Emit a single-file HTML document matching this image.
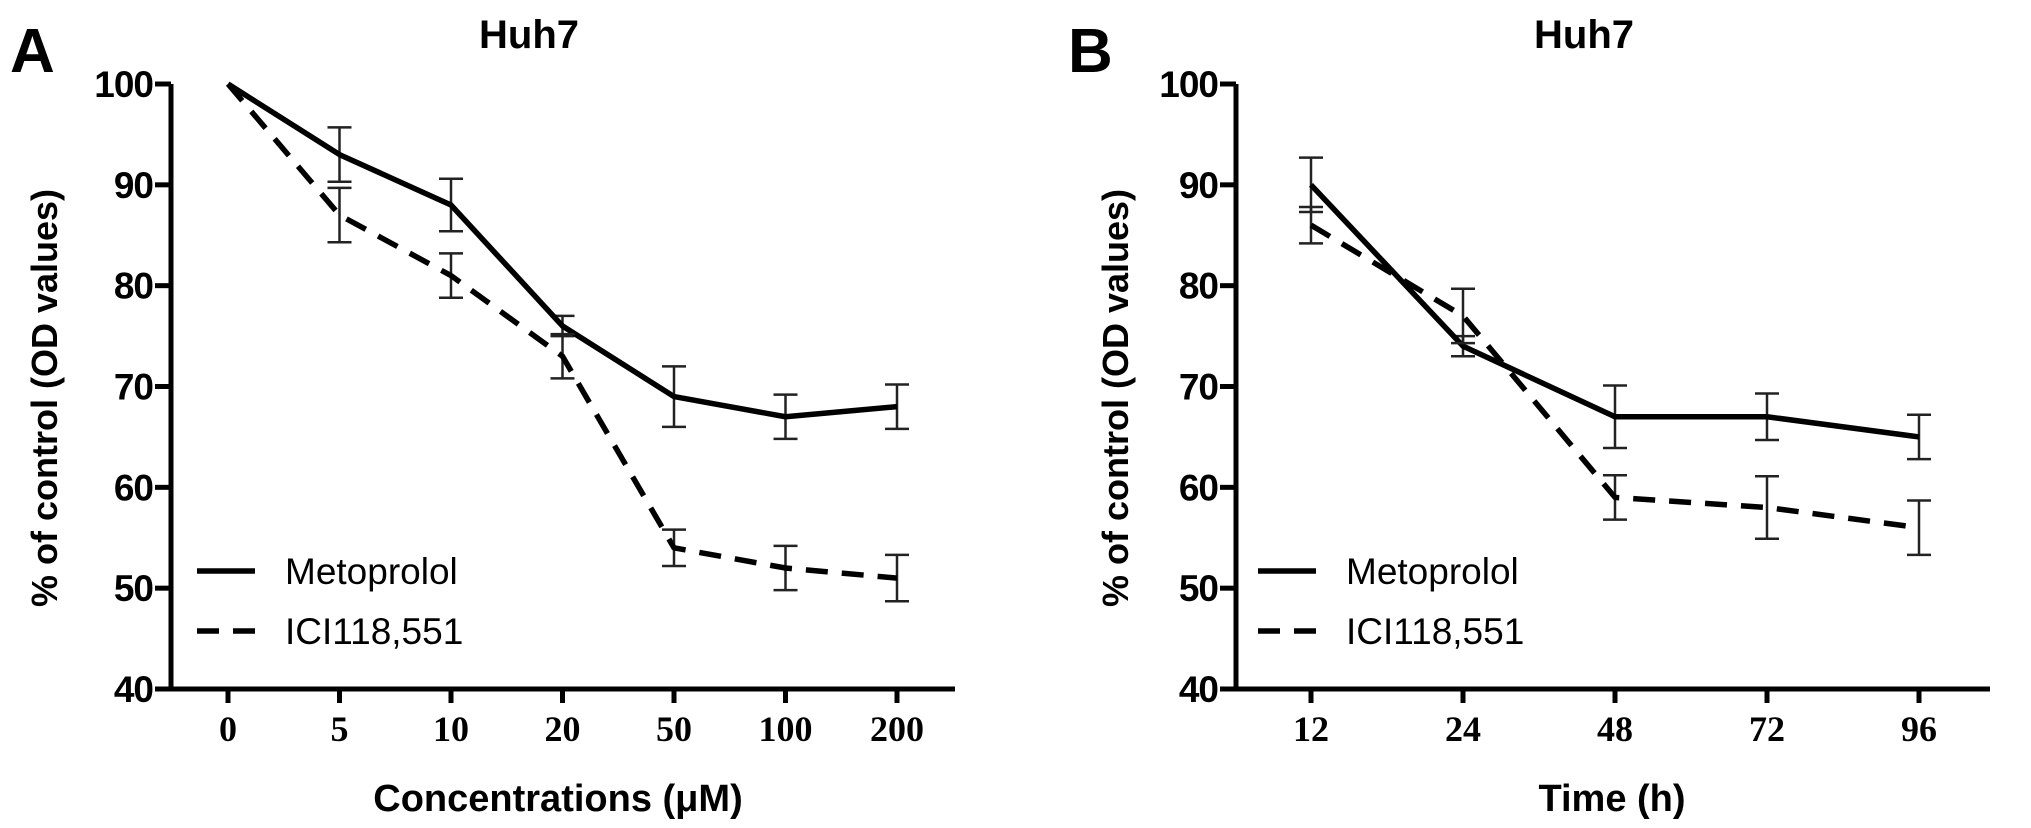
<!DOCTYPE html>
<html><head><meta charset="utf-8">
<style>
html,body{margin:0;padding:0;background:#fff;}
svg{display:block;font-family:"Liberation Sans",Arial,sans-serif;}
</style></head>
<body>
<svg id="chart" width="2031" height="828" viewBox="0 0 2031 828" xmlns="http://www.w3.org/2000/svg"></svg>
<script>
// Panel A data
const catsA = ["0","5","10","20","50","100","200"];
const metA = [100,93,88,76,69,67,68];
const metErrA = [0,2.7,2.6,1,3,2.2,2.2];
const iciA = [100,87,81,73,54,52,51];
const iciErrA = [0,2.7,2.2,2.2,1.8,2.2,2.3];
// Panel B data
const catsB = ["12","24","48","72","96"];
const metB = [90,74,67,67,65];
const metErrB = [2.7,1,3.1,2.3,2.2];
const iciB = [86,77,59,58,56];
const iciErrB = [1.8,2.7,2.2,3.1,2.7];
const yTicks = [40,50,60,70,80,90,100];

const svg = document.getElementById('chart');
const NS = 'http://www.w3.org/2000/svg';
function mk(tag, attrs, parent){
  const e = document.createElementNS(NS, tag);
  for (const k in attrs) e.setAttribute(k, attrs[k]);
  (parent||svg).appendChild(e);
  return e;
}

function panel(cfg){
  const g = mk('g', {});
  
  
  const y = v => 689 - (v - 40) * (689 - 84) / 60;
  const x = i => cfg.x0 + i * cfg.dx;
  // letter
  const L = mk('text', {x: cfg.letterX, y: 72, 'font-size': 62, 'font-weight': 'bold'}, g);
  L.textContent = cfg.letter;
  
  
  const T = mk('text', {x: cfg.titleX, y: 48, 'font-size': 40, 'font-weight': 'bold', 'text-anchor': 'middle'}, g);
  T.textContent = 'Huh7';
  
  
  // axes
  const ax = mk('path', {d: `M${cfg.ax},${y(100)} V${y(40)} H${cfg.axEnd}`, stroke: '#000', 'stroke-width': 5, fill: 'none'}, g);
  
  
  yTicks.forEach(t => {
    mk('line', {x1: cfg.ax - 16, x2: cfg.ax, y1: y(t), y2: y(t), stroke: '#000', 'stroke-width': 5}, g);
    const tx = mk('text', {x: cfg.ax - 18, y: y(t) + 13, 'font-size': 37, 'font-weight': 'bold', 'text-anchor': 'end', 'letter-spacing': -1}, g);
    tx.textContent = t;
    
    
  });
  cfg.cats.forEach((c, i) => {
    mk('line', {x1: x(i), x2: x(i), y1: y(40), y2: y(40) + 14, stroke: '#000', 'stroke-width': 5}, g);
    const tx = mk('text', {x: x(i), y: 741, 'font-size': 36, 'font-weight': 'bold', 'text-anchor': 'middle', 'font-family': '"Liberation Serif",serif'}, g);
    tx.textContent = c;
    
    
  });
  const yt = mk('text', {x: 0, y: 0, 'font-size': 36, 'font-weight': 'bold', 'text-anchor': 'middle', transform: `translate(${cfg.ytX},${398}) rotate(-90)`}, g);
  yt.textContent = '% of control (OD values)';
  
  
  const xt = mk('text', {x: cfg.xtX, y: 811, 'font-size': 38, 'font-weight': 'bold', 'text-anchor': 'middle'}, g);
  xt.textContent = cfg.xTitle;
  
  
  // series
  const series = [
    {vals: cfg.met, err: cfg.metErr, dash: 'none', name: 'metoprolol-line'},
    {vals: cfg.ici, err: cfg.iciErr, dash: '22,14', name: 'ici118551-line'}
  ];
  series.forEach(s => {
    s.vals.forEach((v, i) => {
      if (!s.err[i]) return;
      const eb = mk('path', {d: `M${x(i)-12},${y(v+s.err[i])} H${x(i)+12} M${x(i)},${y(v+s.err[i])} V${y(v-s.err[i])} M${x(i)-12},${y(v-s.err[i])} H${x(i)+12}`, stroke: '#222', 'stroke-width': 2.5, fill: 'none'}, g);
      
      
    });
    const p = mk('polyline', {points: s.vals.map((v, i) => `${x(i)},${y(v)}`).join(' '), stroke: '#000', 'stroke-width': 5.5, fill: 'none', 'stroke-dasharray': s.dash, 'stroke-linejoin': 'round'}, g);
    
    
  });
  // legend
  const lg = mk('g', {}, g);
  
  
  [['Metoprolol', 'none', 571], ['ICI118,551', '22,14', 631]].forEach(([lab, dash, ly]) => {
    mk('line', {x1: cfg.legX, x2: cfg.legX + 58, y1: ly, y2: ly, stroke: '#000', 'stroke-width': 5.5, 'stroke-dasharray': dash}, lg);
    const t = mk('text', {x: cfg.legX + 88, y: ly + 13, 'font-size': 37}, lg);
    t.textContent = lab;
    
    
  });
}

panel({name: 'panel-a', letter: 'A', letterX: 10, titleX: 529, ax: 171, axEnd: 955, x0: 228, dx: 111.5,
  cats: catsA, met: metA, metErr: metErrA, ici: iciA, iciErr: iciErrA,
  ytX: 57, xtX: 558, xTitle: 'Concentrations (\u03BCM)', legX: 197});
panel({name: 'panel-b', letter: 'B', letterX: 1068, titleX: 1584, ax: 1236, axEnd: 1990, x0: 1311, dx: 152,
  cats: catsB, met: metB, metErr: metErrB, ici: iciB, iciErr: iciErrB,
  ytX: 1128, xtX: 1612, xTitle: 'Time (h)', legX: 1258});
</script>
</body></html>
